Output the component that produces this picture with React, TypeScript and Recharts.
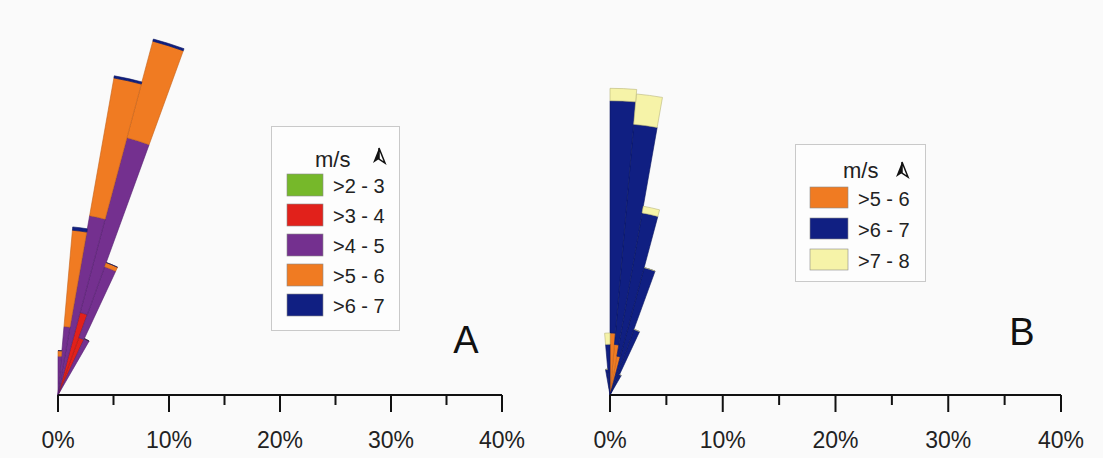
import { RadialBarChart, RadialBar, PolarAngleAxis, PolarRadiusAxis } from 'recharts';

// bearing bins (start of each 5° sector, clockwise from north)
const binsA = [0, 5, 10, 15, 20, 25];
const greenA = [0, 0, 0, 0.2, 0, 0];
const redA = [0, 0, 0, 7.5, 5.5, 0];
const purpleA = [3.5, 6.2, 16.4, 16.3, 6.8, 5.6];
const orangeA = [0.5, 8.7, 12.6, 9.0, 0.4, 0];
const navyA = [0, 0.3, 0.2, 0.2, 0, 0];

const binsB = [350, 355, 0, 5, 10, 15, 20, 25];
const orangeB = [0, 0, 5.5, 4.5, 3.5, 0, 0, 0];
const navyB = [2.3, 4.5, 20.6, 19.6, 12.9, 11.7, 6.2, 2.0];
const yellowB = [0, 1.0, 1.1, 2.7, 0.6, 0, 0, 0];

const radiusTicks = [0, 5, 10, 15, 20, 25, 30, 35, 40];

const legendA = [
  { label: '>2 - 3', color: '#76b82a' },
  { label: '>3 - 4', color: '#e1211b' },
  { label: '>4 - 5', color: '#74308f' },
  { label: '>5 - 6', color: '#f07b22' },
  { label: '>6 - 7', color: '#101f82' },
];
const legendB = [
  { label: '>5 - 6', color: '#f07b22' },
  { label: '>6 - 7', color: '#101f82' },
  { label: '>7 - 8', color: '#f6f3a8' },
];

const FONT = '"Liberation Sans", Arial, sans-serif';

// 72 sectors, ordered so the counter-clockwise angle axis lands on compass bearings
const allBins = Array.from({ length: 72 }, (_, i) => (355 - i * 5 + 360) % 360);

function buildTable(bins: number[], series: Record<string, number[]>) {
  return allBins.map((b) => {
    const row: any = { dir: b };
    const k = bins.indexOf(b);
    Object.keys(series).forEach((key) => {
      row[key] = k >= 0 ? series[key][k] : 0;
    });
    return row;
  });
}

const dataA = buildTable(binsA, { g: greenA, r: redA, p: purpleA, o: orangeA, n: navyA });
const dataB = buildTable(binsB, { o: orangeB, n: navyB, y: yellowB });

const AxisTick = ({ x, y, payload }: any) => {
  const v = payload.value;
  const major = v % 10 === 0;
  return (
    <g>
      <line x1={x} y1={y} x2={x} y2={y + (major ? 17 : 10)} stroke="#111" strokeWidth={2} />
      {major && (
        <text x={x} y={y + 53} textAnchor="middle" fontSize={23} fill="#222" fontFamily={FONT}>
          {v}%
        </text>
      )}
    </g>
  );
};

function Rose({ data, series, outer }: any) {
  return (
    <RadialBarChart
      width={545}
      height={458}
      data={data}
      layout="centric"
      cx={58}
      cy={395}
      innerRadius={0}
      outerRadius={outer}
      startAngle={-265}
      endAngle={95}
      barCategoryGap={0}
      barGap={0}
      margin={{ top: 0, right: 0, bottom: 0, left: 0 }}
    >
      <PolarAngleAxis type="category" dataKey="dir" tick={false} axisLine={false} />
      {series.map((s: any) => (
        <RadialBar
          key={s.key}
          dataKey={s.key}
          stackId="a"
          fill={s.color}
          stroke={s.stroke}
          strokeWidth={0.6}
          isAnimationActive={false}
        />
      ))}
      <PolarRadiusAxis
        type="number"
        angle={0}
        domain={[0, 40]}
        ticks={radiusTicks}
        tick={(p: any) => <AxisTick {...p} />}
        axisLine={{ stroke: '#111', strokeWidth: 2 }}
      />
    </RadialBarChart>
  );
}

const NorthArrow = ({ x, top, h }: any) => (
  <g>
    <path d={`M${x},${top} L${x - 6},${top + h} L${x},${top + h - 4} Z`} fill="#111" />
    <path d={`M${x},${top} L${x + 6},${top + h} L${x},${top + h - 4} Z`} fill="#fff" stroke="#111" strokeWidth={1.5} />
  </g>
);

function Legend({ x, y, w, h, titleX, titleY, arrowX, arrowY, swX, swY, swW, swH, step, items }: any) {
  return (
    <g fontFamily={FONT}>
      <rect x={x} y={y} width={w} height={h} fill="#fdfdfd" stroke="#c9c9c9" strokeWidth={1} />
      <text x={titleX} y={titleY} fontSize={22} fill="#222">m/s</text>
      <NorthArrow x={arrowX} top={arrowY} h={15} />
      {items.map((it: any, i: number) => (
        <g key={it.label}>
          <rect x={swX} y={swY + i * step} width={swW} height={swH} fill={it.color} stroke="#8a8a8a" strokeWidth={0.6} />
          <text x={swX + swW + 10} y={swY + i * step + swH / 2 + 8} fontSize={20} fill="#222">
            {it.label}
          </text>
        </g>
      ))}
    </g>
  );
}

export default function App() {
  const seriesA = [
    { key: 'g', color: '#76b82a', stroke: '#5a8f1e' },
    { key: 'r', color: '#e1211b', stroke: '#a8160f' },
    { key: 'p', color: '#74308f', stroke: '#552070' },
    { key: 'o', color: '#f07b22', stroke: '#c4611a' },
    { key: 'n', color: '#101f82', stroke: '#0a1560' },
  ];
  const seriesB = [
    { key: 'o', color: '#f07b22', stroke: '#c4611a' },
    { key: 'n', color: '#101f82', stroke: '#0a1560' },
    { key: 'y', color: '#f6f3a8', stroke: '#b9b67a' },
  ];
  return (
    <div style={{ position: 'absolute', left: 0, top: 0, width: 1103, height: 458, background: '#fafafa' }}>
      <div style={{ position: 'absolute', left: 0, top: 0 }}>
        <Rose data={dataA} series={seriesA} outer={444} />
      </div>
      <div style={{ position: 'absolute', left: 552, top: 0 }}>
        <Rose data={dataB} series={seriesB} outer={451} />
      </div>
      <svg width={1103} height={458} style={{ position: 'absolute', left: 0, top: 0, pointerEvents: 'none' }}>
        <Legend
          x={271.5} y={126.5} w={128} h={204}
          titleX={315} titleY={167} arrowX={379} arrowY={148}
          swX={287} swY={174} swW={36} swH={22} step={30}
          items={legendA}
        />
        <Legend
          x={795.5} y={144.5} w={130} h={137}
          titleX={843} titleY={178} arrowX={902} arrowY={162}
          swX={810} swY={187} swW={38} swH={21} step={31}
          items={legendB}
        />
        <text x={466} y={353} fontSize={38} textAnchor="middle" fontFamily={FONT} fill="#111">A</text>
        <text x={1022} y={345} fontSize={38} textAnchor="middle" fontFamily={FONT} fill="#111">B</text>
      </svg>
    </div>
  );
}
